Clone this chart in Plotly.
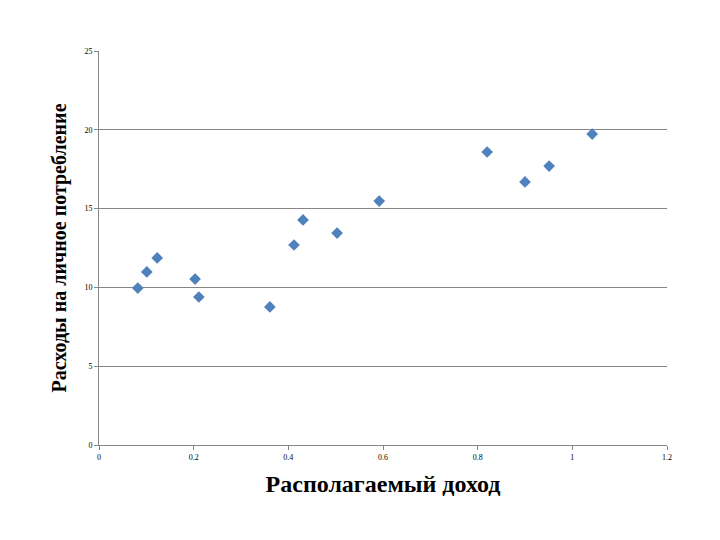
import plotly.graph_objects as go

income = [0.082, 0.101, 0.123, 0.203, 0.211, 0.361, 0.412, 0.431, 0.503, 0.592, 0.820, 0.900, 0.951, 1.042]
spending = [9.96, 10.98, 11.87, 10.53, 9.39, 8.76, 12.69, 14.28, 13.45, 15.48, 18.59, 16.69, 17.70, 19.73]

fig = go.Figure(go.Scatter(x=income, y=spending, mode="markers",
    marker=dict(symbol="diamond", size=9, color="#4F81BD")))
fig.update_layout(
    width=720, height=540, plot_bgcolor="white", paper_bgcolor="white",
    margin=dict(l=91, r=61, t=43, b=103), showlegend=False,
    font=dict(family="Liberation Serif", color="black"),
    xaxis=dict(range=[0, 1.2], dtick=0.2, showgrid=False, showline=True, linecolor="#868686",
               ticks="outside", ticklen=4, tickcolor="#868686", tickfont=dict(size=8), zeroline=False,
               title=dict(text="<b>Располагаемый доход</b>", font=dict(size=24), standoff=14)),
    yaxis=dict(range=[0, 25], dtick=5, showgrid=True, gridcolor="#868686", showline=True, linecolor="#868686",
               ticks="outside", ticklen=4, tickcolor="#868686", tickfont=dict(size=8), zeroline=False,
               title=dict(text="<b>Расходы на личное потребление</b>", font=dict(size=20), standoff=12)),
)
fig.write_html("out.html")
